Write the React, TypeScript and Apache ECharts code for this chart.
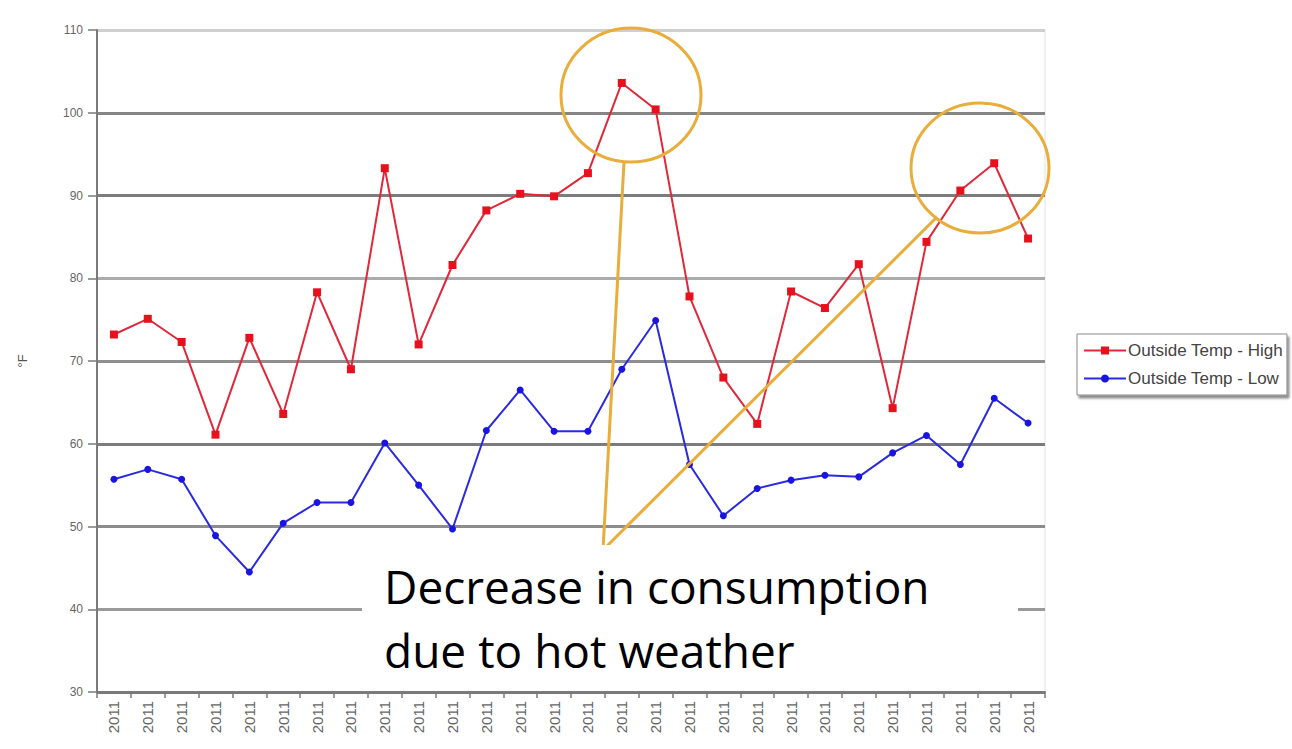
import React, { useEffect, useRef } from "react";
import * as echarts from "echarts";

const xLabels = [
  "2011", "2011", "2011", "2011", "2011", "2011", "2011",
  "2011", "2011", "2011", "2011", "2011", "2011", "2011",
  "2011", "2011", "2011", "2011", "2011", "2011", "2011",
  "2011", "2011", "2011", "2011", "2011", "2011", "2011",
];

const highTemps = [
  73.2, 75.1, 72.3, 61.1, 72.8, 63.6, 78.3, 69.0, 93.3, 72.0, 81.6, 88.2, 90.2, 89.9,
  92.7, 103.6, 100.4, 77.8, 68.0, 62.4, 78.4, 76.4, 81.7, 64.3, 84.4, 90.6, 93.9, 84.8,
];

const lowTemps = [
  55.7, 56.9, 55.7, 48.9, 44.5, 50.4, 52.9, 52.9, 60.1, 55.0, 49.7, 61.6, 66.5, 61.5,
  61.5, 69.0, 74.9, 57.5, 51.3, 54.6, 55.6, 56.2, 56.0, 58.9, 61.0, 57.5, 65.5, 62.5,
];

const seriesNames = ["Outside Temp - High", "Outside Temp - Low"];
const annotationLines = ["Decrease in consumption", "due to hot weather"];

export default function App() {
  const ref = useRef<HTMLDivElement>(null);

  useEffect(() => {
    if (!ref.current) return;
    const chart = echarts.init(ref.current, null, { renderer: "svg" });
    const orange = "#e8ad3a";
    chart.setOption({
      animation: false,
      backgroundColor: "#ffffff",
      grid: {
        left: 97,
        right: 247,
        top: 30,
        bottom: 57,
        show: true,
        borderColor: "#e2e2e2",
        borderWidth: 1,
      },
      legend: {
        orient: "vertical",
        left: 1077,
        top: 334,
        data: seriesNames,
        itemWidth: 42,
        itemHeight: 10,
        itemGap: 11,
        padding: [8, 4, 8, 6],
        borderColor: "#8a8a8a",
        borderWidth: 1,
        shadowColor: "rgba(0,0,0,0.45)",
        shadowOffsetX: 2,
        shadowOffsetY: 3,
        shadowBlur: 2,
        backgroundColor: "#ffffff",
        textStyle: { color: "#444", fontSize: 17, fontFamily: "Liberation Sans", padding: [0, 0, 0, -3] },
      },
      xAxis: {
        type: "category",
        data: xLabels,
        boundaryGap: true,
        axisLine: { show: true, lineStyle: { color: "#7a7a7a", width: 2 } },
        axisTick: { show: true, length: 6, lineStyle: { color: "#7a7a7a", width: 1.5 } },
        axisLabel: {
          rotate: 90,
          interval: 0,
          margin: 9,
          fontSize: 15,
          color: "#666",
          fontFamily: "Liberation Sans",
        },
        splitLine: { show: false },
      },
      yAxis: {
        type: "value",
        min: 30,
        max: 110,
        interval: 10,
        name: "°F",
        nameLocation: "middle",
        nameGap: 68,
        nameRotate: 90,
        nameMoveOverlap: false,
        nameTextStyle: { color: "#555", fontSize: 13, fontFamily: "Liberation Sans" },
        axisLine: { show: true, lineStyle: { color: "#7a7a7a", width: 2 } },
        axisTick: { show: true, length: 9, lineStyle: { color: "#7a7a7a", width: 1.5 } },
        axisLabel: { color: "#666", fontSize: 12, margin: 14, fontFamily: "Liberation Sans" },
        splitLine: {
          show: true,
          lineStyle: {
            width: 3,
            color: ["#7a7a7a", "#9a9a9a", "#8c8c8c", "#7c7c7c", "#8f8f8f", "#ababab", "#7c7c7c", "#858585", "#cfcfcf"],
          },
        },
      },
      series: [
        {
          name: seriesNames[0],
          type: "line",
          data: highTemps,
          symbol: "rect",
          symbolSize: 8,
          color: "#e8101c",
          lineStyle: { color: "#e0283a", width: 2 },
          itemStyle: { color: "#e8101c" },
          z: 3,
        },
        {
          name: seriesNames[1],
          type: "line",
          data: lowTemps,
          symbol: "circle",
          symbolSize: 7,
          color: "#1a14e0",
          lineStyle: { color: "#2a2ae0", width: 2 },
          itemStyle: { color: "#1a14e0" },
          z: 3,
        },
      ],
      graphic: [
        {
          type: "ellipse",
          z: 50,
          shape: { cx: 631, cy: 95, rx: 70, ry: 67 },
          style: { fill: "none", stroke: orange, lineWidth: 3 },
        },
        {
          type: "ellipse",
          z: 50,
          shape: { cx: 980, cy: 168, rx: 69, ry: 65 },
          style: { fill: "none", stroke: orange, lineWidth: 3 },
        },
        {
          type: "polyline",
          z: 50,
          shape: { points: [[624, 162], [603, 550], [937, 217]] },
          style: { fill: "none", stroke: orange, lineWidth: 3 },
        },
        {
          type: "rect",
          z: 60,
          shape: { x: 362, y: 545, width: 656, height: 146 },
          style: { fill: "#ffffff" },
        },
        {
          type: "text",
          z: 70,
          left: 384,
          top: 563,
          style: { text: annotationLines[0], fontSize: 46, fontFamily: "Open Sans", fill: "#000" },
        },
        {
          type: "text",
          z: 70,
          left: 384,
          top: 627,
          style: { text: annotationLines[1], fontSize: 46, fontFamily: "Open Sans", fill: "#000" },
        },
      ],
    });
    return () => chart.dispose();
  }, []);

  return (
    <div
      ref={ref}
      style={{ position: "absolute", left: 0, top: 0, width: 1292, height: 749 }}
    />
  );
}
